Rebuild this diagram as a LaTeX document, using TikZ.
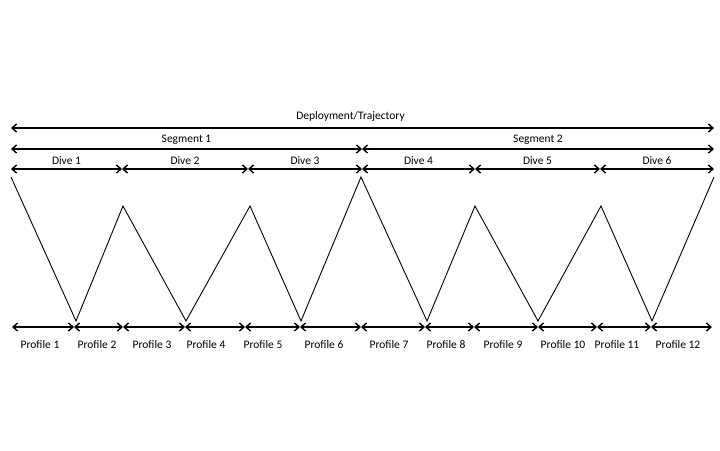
\documentclass[tikz,border=0pt]{standalone}
\usepackage{fontspec}
\setmainfont{Carlito}
\usetikzlibrary{arrows.meta}
\tikzstyle{span} = [{Straight Barb[length=4.5pt,width=8pt,line width=1.4pt]}-{Straight Barb[length=4.5pt,width=8pt,line width=1.4pt]}, line width=1.3pt]
\tikzstyle{lbl} = [font=\fontsize{11.5}{13}\selectfont, inner sep=1pt]
\tikzstyle{zig} = [line width=0.9pt, line join=miter]

\begin{document}
\begin{tikzpicture}[x=1pt,y=-1pt]

                    \useasboundingbox (0,0) rectangle (720,450);

                    % deployment and segments
                    \coordinate (dep0) at (11,128);
                    \coordinate (dep1) at (714,128);
                    \coordinate (seg0) at (11,149);
                    \coordinate (seg1) at (362,149);
                    \coordinate (seg2) at (714,149);

                    \draw [span] (dep0) -- (dep1) node[lbl,pos=0.483,above=5pt] (deplbl) {Deployment/Trajectory};
                    \draw [span] (seg0) -- (seg1) node[lbl,midway,above=3pt] (seglbl1) {Segment 1};
                    \draw [span] (seg1) -- (seg2) node[lbl,midway,above=3pt] (seglbl2) {Segment 2};

                    % dives
                    \coordinate (dv0) at (11,169);
                    \coordinate (dv1) at (122,169);
                    \coordinate (dv2) at (248,169);
                    \coordinate (dv3) at (362,169);
                    \coordinate (dv4) at (475,169);
                    \coordinate (dv5) at (600,169);
                    \coordinate (dv6) at (714,169);

                    \draw [span] (dv0) -- (dv1) node[lbl,midway,above=3pt] (divelbl1) {Dive 1};
                    \draw [span] (dv1) -- (dv2) node[lbl,midway,above=3pt] (divelbl2) {Dive 2};
                    \draw [span] (dv2) -- (dv3) node[lbl,midway,above=3pt] (divelbl3) {Dive 3};
                    \draw [span] (dv3) -- (dv4) node[lbl,midway,above=3pt] (divelbl4) {Dive 4};
                    \draw [span] (dv4) -- (dv5) node[lbl,midway,above=3pt] (divelbl5) {Dive 5};
                    \draw [span] (dv5) -- (dv6) node[lbl,midway,above=3pt] (divelbl6) {Dive 6};

                    % trajectory
                    \coordinate (top0) at (11,177);
                    \coordinate (bot1) at (76,321);
                    \coordinate (top1) at (123,206);
                    \coordinate (bot2) at (186,321);
                    \coordinate (top2) at (250,206);
                    \coordinate (bot3) at (301,321);
                    \coordinate (top3) at (361,177);
                    \coordinate (bot4) at (427,321);
                    \coordinate (top4) at (475,206);
                    \coordinate (bot5) at (538,321);
                    \coordinate (top5) at (601,206);
                    \coordinate (bot6) at (652,321);
                    \coordinate (top6) at (714,177);

                    \draw [zig] (top0) -- (bot1) -- (top1) -- (bot2) -- (top2) -- (bot3) -- (top3)
                        -- (bot4) -- (top4) -- (bot5) -- (top5) -- (bot6) -- (top6);

                    % profiles
                    \coordinate (pr0) at (12,327);
                    \coordinate (pr1) at (74,327);
                    \coordinate (pr2) at (123,327);
                    \coordinate (pr3) at (185,327);
                    \coordinate (pr4) at (245,327);
                    \coordinate (pr5) at (300,327);
                    \coordinate (pr6) at (361,327);
                    \coordinate (pr7) at (425,327);
                    \coordinate (pr8) at (474,327);
                    \coordinate (pr9) at (538,327);
                    \coordinate (pr10) at (597,327);
                    \coordinate (pr11) at (651,327);
                    \coordinate (pr12) at (712,327);

                    \draw [span] (pr0) -- (pr1);
                    \draw [span] (pr1) -- (pr2);
                    \draw [span] (pr2) -- (pr3);
                    \draw [span] (pr3) -- (pr4);
                    \draw [span] (pr4) -- (pr5);
                    \draw [span] (pr5) -- (pr6);
                    \draw [span] (pr6) -- (pr7);
                    \draw [span] (pr7) -- (pr8);
                    \draw [span] (pr8) -- (pr9);
                    \draw [span] (pr9) -- (pr10);
                    \draw [span] (pr10) -- (pr11);
                    \draw [span] (pr11) -- (pr12);

                    \node[lbl,below=12pt] (proflbl1) at (40,327) {Profile 1};
                    \node[lbl,below=12pt] (proflbl2) at (97,327) {Profile 2};
                    \node[lbl,below=12pt] (proflbl3) at (152,327) {Profile 3};
                    \node[lbl,below=12pt] (proflbl4) at (206,327) {Profile 4};
                    \node[lbl,below=12pt] (proflbl5) at (263,327) {Profile 5};
                    \node[lbl,below=12pt] (proflbl6) at (324,327) {Profile 6};
                    \node[lbl,below=12pt] (proflbl7) at (389,327) {Profile 7};
                    \node[lbl,below=12pt] (proflbl8) at (446,327) {Profile 8};
                    \node[lbl,below=12pt] (proflbl9) at (503,327) {Profile 9};
                    \node[lbl,below=12pt] (proflbl10) at (563,327) {Profile 10};
                    \node[lbl,below=12pt] (proflbl11) at (617,327) {Profile 11};
                    \node[lbl,below=12pt] (proflbl12) at (678,327) {Profile 12};

                \end{tikzpicture}
\end{document}
